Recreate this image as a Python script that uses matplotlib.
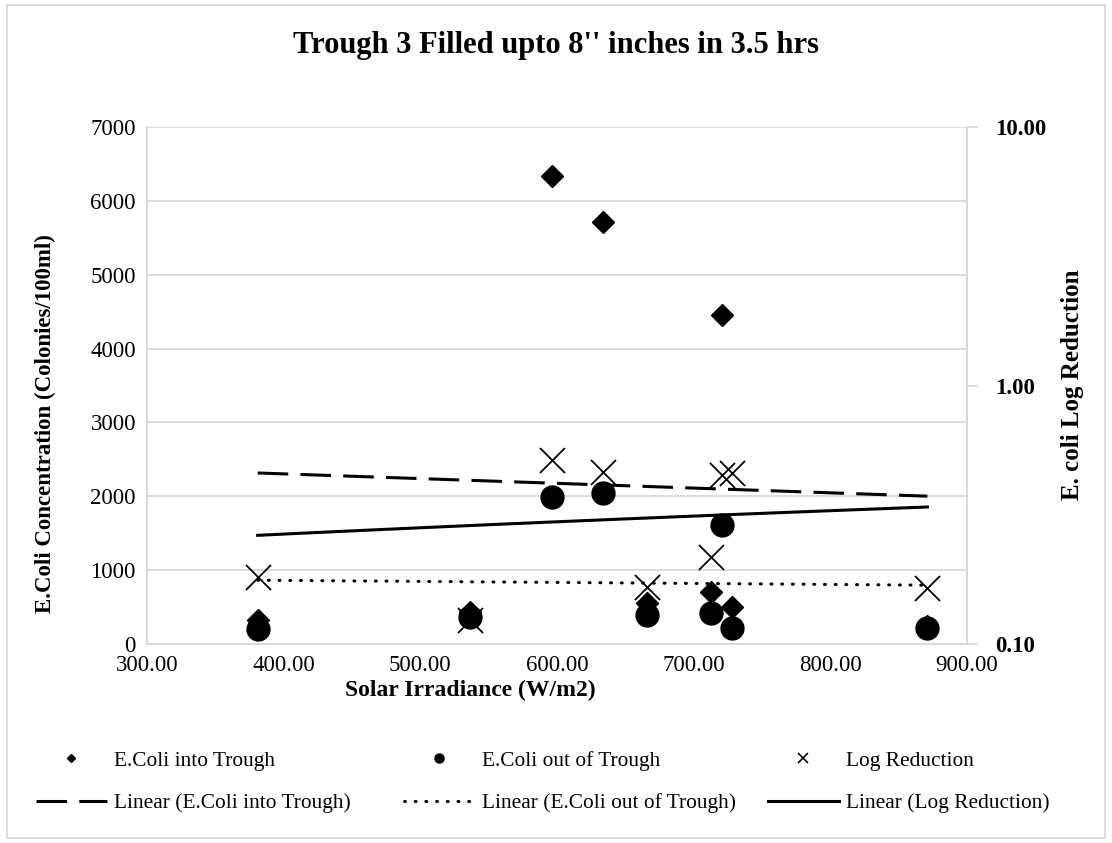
import numpy as np
import matplotlib
matplotlib.use("Agg")
import matplotlib.pyplot as plt
from matplotlib.lines import Line2D
from matplotlib.patches import Rectangle

plt.rcParams['font.family'] = ['Liberation Serif', 'DejaVu Serif']

# Solar irradiance (W/m2) for each sample
irradiance = [381, 536, 596, 634, 666, 713, 721, 728, 871]
# E.Coli counts (colonies/100ml)
ecoli_in = [325, 433, 6340, 5720, 560, 708, 4450, 505, 250]
ecoli_out = [200, 365, 1990, 2040, 393, 416, 1610, 212, 217]
# log reduction (secondary axis)
log_red = [0.182, 0.124, 0.515, 0.461, 0.166, 0.218, 0.452, 0.46, 0.164]

x = np.array(irradiance)
xs = np.linspace(x.min(), x.max(), 100)

W, H = 1112, 843
fig = plt.figure(figsize=(W / 100, H / 100), dpi=100)
ax = fig.add_axes([147 / W, 1 - 644 / H, 820 / W, 517 / H])
ax2 = ax.twinx()

grid_c = '#d9d9d9'
dash = (10, 4)
dot = (0.3, 3.2)

# scatter markers
ax.plot(x, ecoli_in, 'D', color='black', markersize=11.5, zorder=3)
ax.plot(x, ecoli_out, 'o', color='black', markersize=16.5, zorder=3)
ax2.plot(x, log_red, 'x', color='black', markersize=18, markeredgewidth=1.3, zorder=3)

# linear trend lines
p_in = np.polyfit(x, ecoli_in, 1)
p_out = np.polyfit(x, ecoli_out, 1)
p_log = np.polyfit(x, log_red, 1)
ax.plot(xs, np.polyval(p_in, xs), color='black', lw=2.2, dashes=dash)
ax.plot(xs, np.polyval(p_out, xs), color='black', lw=2.2, dashes=dot,
        dash_capstyle='round')
ax2.plot(xs, np.polyval(p_log, xs), color='black', lw=2.2)

ax.set_xlim(300, 900)
ax.set_ylim(0, 7000)
ax.set_xticks(np.arange(300, 901, 100))
ax.set_xticklabels(['%.2f' % v for v in np.arange(300, 901, 100)])
ax.set_yticks(np.arange(0, 7001, 1000))
ax.grid(axis='y', color=grid_c, lw=1.3)
ax.set_axisbelow(True)
ax.tick_params(axis='both', length=0, labelsize=16.5, pad=8)

ax2.set_yscale('log')
ax2.set_ylim(0.1, 10)
ax2.set_yticks([0.1, 1, 10])
ax2.set_yticklabels(['0.10', '1.00', '10.00'], fontweight='bold')
ax2.minorticks_off()
ax2.tick_params(axis='y', length=8, width=1.3, color=grid_c, labelsize=16.5, pad=12)

for a in (ax, ax2):
    a.spines['top'].set_visible(False)
    for s in ('left', 'right', 'bottom'):
        a.spines[s].set_color(grid_c)
        a.spines[s].set_linewidth(1.3)

# axis titles and chart title
fig.text(470 / W, 1 - 690 / H, 'Solar Irradiance (W/m2)', ha='center', va='center',
         fontsize=17, fontweight='bold')
fig.text(45 / W, 1 - 424 / H, 'E.Coli Concentration (Colonies/100ml)', ha='center',
         va='center', rotation=90, fontsize=16.5, fontweight='bold')
fig.text(1073 / W, 1 - 385 / H, 'E. coli Log Reduction', ha='center', va='center',
         rotation=90, fontsize=18, fontweight='bold')
fig.text(0.5, 1 - 45 / H, "Trough 3 Filled upto 8'' inches in 3.5 hrs", ha='center',
         va='center', fontsize=22, fontweight='bold')

# legend: three columns placed like the Excel one
cols = [
    ([Line2D([], [], marker='D', color='black', ls='none', markersize=4.5),
      Line2D([], [], color='black', lw=2.2, dashes=dash)],
     ['E.Coli into Trough', 'Linear (E.Coli into Trough)'], 36),
    ([Line2D([], [], marker='o', color='black', ls='none', markersize=6.5),
      Line2D([], [], color='black', lw=2.2, dashes=dot, dash_capstyle='round')],
     ['E.Coli out of Trough', 'Linear (E.Coli out of Trough)'], 404),
    ([Line2D([], [], marker='x', color='black', ls='none', markersize=7, markeredgewidth=1.2),
      Line2D([], [], color='black', lw=2.2)],
     ['Log Reduction', 'Linear (Log Reduction)'], 768),
]
for h, l, x0 in cols:
    fig.legend(h, l, loc='center left', bbox_to_anchor=(x0 / W, 1 - 782 / H),
               frameon=False, fontsize=15.4, handlelength=3.3, handletextpad=0.33,
               labelspacing=1.05, borderpad=0, borderaxespad=0)

fig.add_artist(Rectangle((0.006, 0.006), 0.988, 0.988, transform=fig.transFigure,
                         fill=False, edgecolor=grid_c, lw=1.3))

fig.savefig('out.png', dpi=100)
